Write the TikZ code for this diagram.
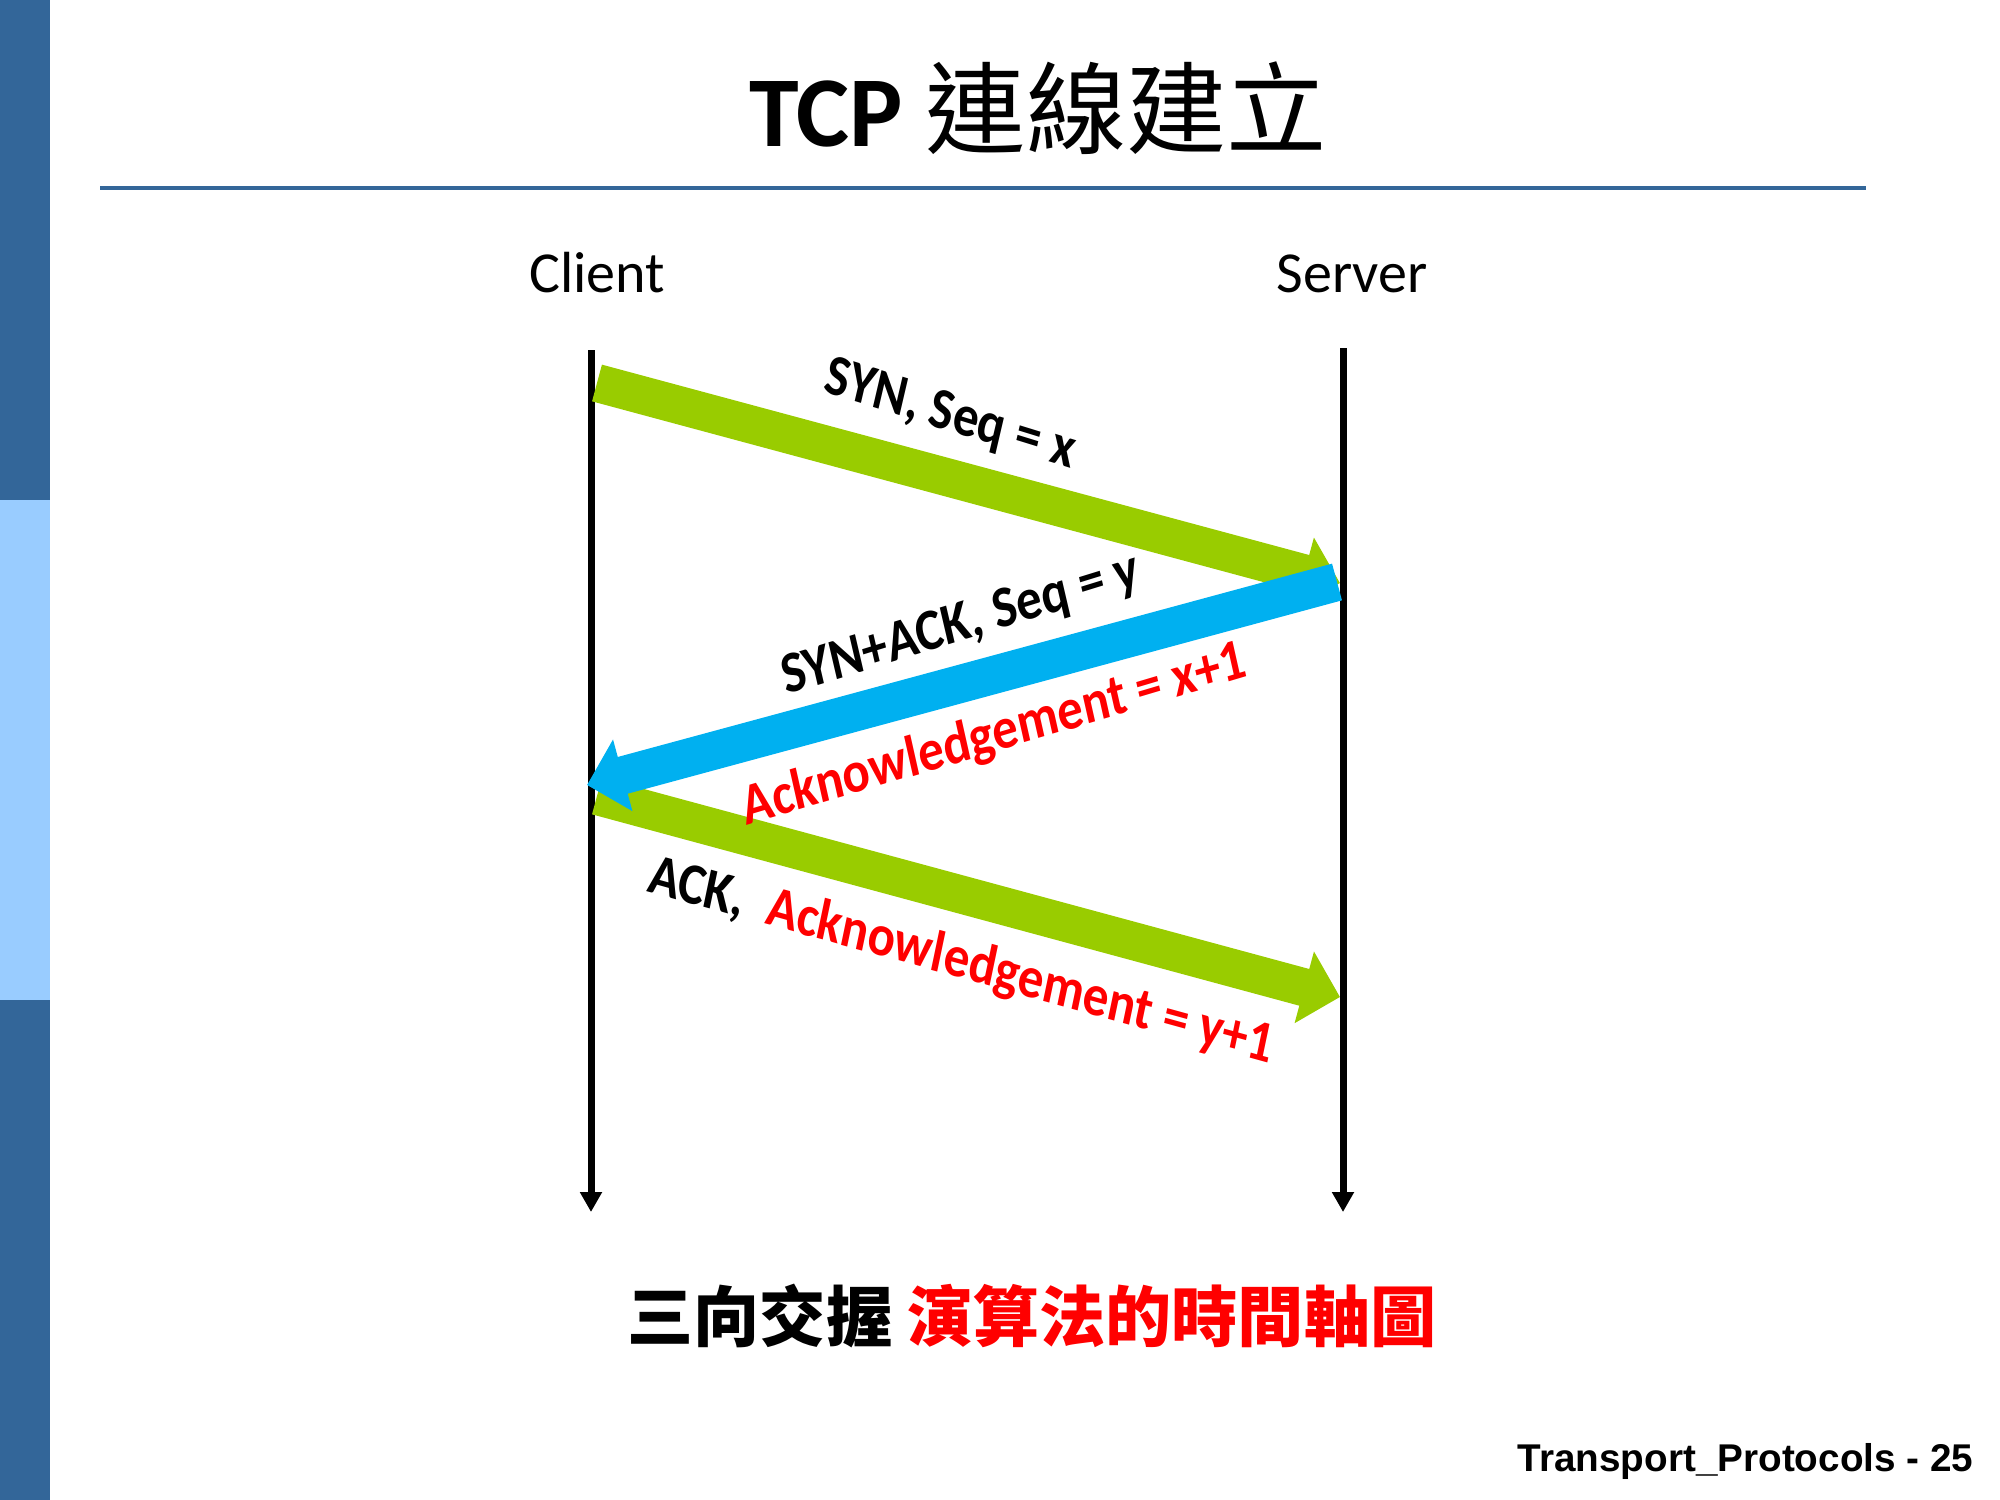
\documentclass[tikz,border=0pt]{standalone}
\usepackage{fontspec}
\usepackage{tikz}
\usetikzlibrary{arrows.meta}
\setmainfont{Carlito}
\newfontfamily\cjk{Noto Sans CJK TC}
\newfontfamily\footfont{Liberation Sans}
\definecolor{synGreen}{HTML}{99CC00}
\definecolor{ackBlue}{HTML}{00B0F0}
\definecolor{barDark}{HTML}{336699}
\definecolor{barLight}{HTML}{99CCFF}
\newcommand{\fs}[1]{\fontsize{#1}{1.2\dimexpr#1pt\relax}\selectfont}

\begin{document}
\begin{tikzpicture}[x=0.01cm,y=-0.01cm,
	timeline/.style={line width=0.07cm,-{Triangle[length=0.2cm,width=0.21cm]}},
	msg/.style={line width=0.38cm,-{Triangle[length=0.37cm,width=0.72cm]}},
	lbl/.style={font=\fs{14.5}\bfseries,inner sep=0pt,yscale=1.15},
	host/.style={font=\fs{16.5},anchor=base,inner sep=0pt}]
 	\useasboundingbox (0,0) rectangle (2000,1500);
 	% side bar and title rule
 	\fill[barDark] (0,0) rectangle (50,500);
 	\fill[barLight] (0,500) rectangle (50,1000);
 	\fill[barDark] (0,1000) rectangle (50,1500);
 	\draw[barDark, line width=0.04cm] (100,188) -- (1866,188);
 	\node[anchor=base, inner sep=0pt] (title) at (1038,147)
 		{\fs{28.5}\bfseries TCP {\cjk\mdseries 連線建立}};
 	% hosts and time axes
 	\node[host] (client) at (597,292) {Client};
 	\node[host] (server) at (1352,292) {Server};
 	\coordinate (ctop) at (591,350);
 	\coordinate (cbot) at (591,1212);
 	\coordinate (stop) at (1343,348);
 	\coordinate (sbot) at (1343,1212);
 	\draw[timeline] (ctop) -- (cbot);
 	\draw[timeline] (stop) -- (sbot);
 	% three messages
 	\coordinate (synA) at (597,383);
 	\coordinate (synB) at (1340,583);
 	\coordinate (sackA) at (1337,582);
 	\coordinate (sackB) at (587,785);
 	\coordinate (ackA) at (597,796);
 	\coordinate (ackB) at (1340,997);
 	\draw[msg, synGreen] (synA) -- (synB);
 	\draw[msg, synGreen] (ackA) -- (ackB);
 	\draw[msg, ackBlue] (sackA) -- (sackB);
 	\node[lbl, rotate=-15] (synlbl) at (950,416) {SYN, Seq = x};
 	\node[lbl, rotate=15] (sacklbl) at (961,626) {SYN+ACK, Seq = y};
 	\node[lbl, rotate=14.5, red] (xlbl) at (994,736) {Acknowledgement = x+1};
 	\node[lbl, rotate=-13.5] (acklbl) at (961,962)
 		{ACK,~~\textcolor{red}{Acknowledgement = y+1}};
 	% caption and page footer
 	\node[inner sep=0pt] (caption) at (1032,1316)
 		{\cjk\fs{18.8}\bfseries 三向交握 \textcolor{red}{演算法的時間軸圖}};
 	\node[anchor=base east, inner sep=0pt] (footer) at (1974,1471)
 		{\footfont\fs{11}\bfseries Transport\_Protocols - 25};
\end{tikzpicture}
\end{document}
